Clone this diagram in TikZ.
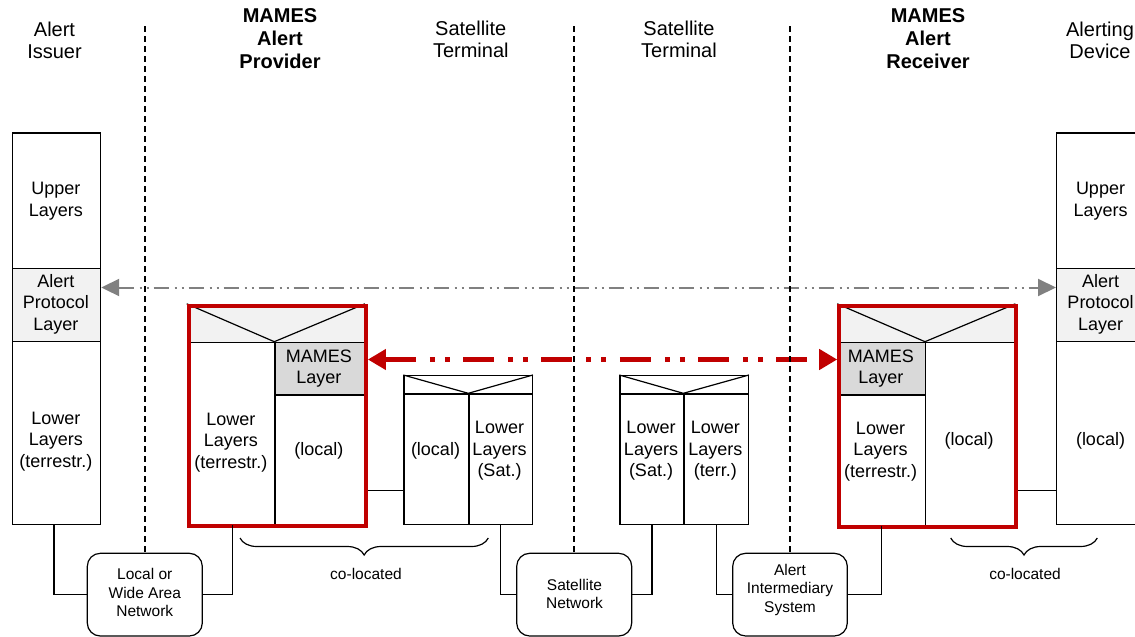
\documentclass[tikz,border=0pt]{standalone}
\usepackage{fontspec}
\setmainfont{Liberation Sans}
\usetikzlibrary{arrows.meta,decorations.pathreplacing}

\definecolor{mamesred}{HTML}{C00000}
\definecolor{paleband}{HTML}{F2F2F2}
\definecolor{mamesgray}{HTML}{D9D9D9}
\definecolor{linkgray}{HTML}{808080}

\begin{document}
\begin{tikzpicture}[x=1pt,y=-1pt,
  cell/.style={draw, line width=1.2pt, inner sep=0pt, anchor=north west, fill=white},
  band/.style={cell, fill=paleband},
  mameslayer/.style={cell, fill=mamesgray},
  frame/.style={draw=mamesred, line width=4.2pt, inner sep=0pt, anchor=north west},
  netbox/.style={draw, line width=1.2pt, rounded corners=13pt, inner sep=0pt, fill=white},
  wire/.style={line width=1.2pt},
  divider/.style={line width=1.6pt, dash pattern=on 6pt off 4pt},
  redlink/.style={draw=mamesred, line width=4.2pt,
    dash pattern=on 31pt off 14pt on 5pt off 10pt on 5pt off 13.3pt,
    {Triangle[length=18pt,width=20pt]}-{Triangle[length=18pt,width=20pt]}},
  graylink/.style={draw=linkgray, line width=2pt,
    dash pattern=on 15pt off 6pt on 2pt off 5pt on 2pt off 5pt,
    {Triangle[length=18pt,width=17pt]}-{Triangle[length=18pt,width=17pt]}},
  bracket/.style={line width=1.2pt, decorate, decoration={brace, amplitude=17pt}},
  txt/.style={align=center, inner sep=0pt, font=\fontsize{18}{21.5}\selectfont},
  small/.style={align=center, inner sep=0pt, font=\fontsize{15.5}{18.5}\selectfont},
  head/.style={align=center, inner sep=0pt, font=\fontsize{20}{22}\selectfont},
  boldhead/.style={align=center, inner sep=0pt, font=\bfseries\fontsize{20}{23}\selectfont}]

\useasboundingbox (0,0) rectangle (1135,637);
\fill[white] (0,0) rectangle (1135,637);
\clip (0,0) rectangle (1135,637);

% helper levels for horizontal links
\coordinate (yTop)  at (0,26);
\coordinate (yGray) at (0,287.5);
\coordinate (yRed)  at (0,359.5);
\coordinate (yLink) at (0,490.7);

% column headings
\node[head]     (hIssuer)   at (54.5,43)  {\strut Alert\\Issuer\strut};
\node[boldhead] (hProvider) at (280,41)   {\strut MAMES\\Alert\\Provider\strut};
\node[head]     (hTermA)    at (470.8,42) {\strut Satellite\\Terminal\strut};
\node[head]     (hTermB)    at (679,42)   {\strut Satellite\\Terminal\strut};
\node[boldhead] (hReceiver) at (928,41)   {\strut MAMES\\Alert\\Receiver\strut};
\node[head]     (hDevice)   at (1100,43)  {\strut Alerting\\Device\strut};

% Alert Issuer stack
\node[cell, minimum width=88.3, minimum height=135.4] (issUp)  at (11.7,132.3) {};
\node[band, minimum width=88.3, minimum height=73.3]  (issApl) at (11.7,267.7) {};
\node[cell, minimum width=88.3, minimum height=182.5] (issLow) at (11.7,341) {};
\node[txt] (issUpT)  at (55.8,201)   {\strut Upper\\Layers\strut};
\node[txt] (issAplT) at (55.8,304.6) {\strut Alert\\Protocol\\Layer\strut};
\node[txt] (issLowT) at (55.8,441.2) {\strut Lower\\Layers\\(terrestr.)\strut};

% Alerting Device stack
\node[cell, minimum width=88.3, minimum height=135.4] (devUp)  at (1056,132.3) {};
\node[band, minimum width=88.3, minimum height=73.3]  (devApl) at (1056,267.7) {};
\node[cell, minimum width=88.3, minimum height=182.5] (devLow) at (1056,341) {};
\node[txt] (devUpT)    at (1100.5,201)   {\strut Upper\\Layers\strut};
\node[txt] (devAplT)   at (1100.5,304.6) {\strut Alert\\Protocol\\Layer\strut};
\node[txt] (devLocalT) at (1100.5,441)   {\strut(local)\strut};

% MAMES Alert Provider
\node[band, minimum width=177, minimum height=37.9]        (provEnv)   at (186.7,303.8) {};
\node[cell, minimum width=87.6, minimum height=182.5]      (provLow)   at (186.7,341.7) {};
\node[mameslayer, minimum width=89.4, minimum height=52.6] (provMames) at (274.3,341.7) {};
\node[cell, minimum width=89.4, minimum height=129.9]      (provLocal) at (274.3,394.3) {};
\draw[wire] (provEnv.north west) -- (provMames.north west) -- (provEnv.north east);
\node[frame, minimum width=177, minimum height=220.4]      (provFrame) at (186.7,303.8) {};
\node[txt] (provLowT)   at (230.8,442.3) {\strut Lower\\Layers\\(terrestr.)\strut};
\node[txt] (provMamesT) at (318.8,368.5) {\strut MAMES\\Layer\strut};
\node[txt] (provLocalT) at (318.8,451)   {\strut(local)\strut};

% MAMES Alert Receiver
\node[band, minimum width=177, minimum height=37.9]        (recvEnv)   at (837.2,303.8) {};
\node[mameslayer, minimum width=87.8, minimum height=52.6] (recvMames) at (837.2,341.7) {};
\node[cell, minimum width=87.8, minimum height=130.2]      (recvLow)   at (837.2,394.3) {};
\node[cell, minimum width=89.2, minimum height=182.8]      (recvLocal) at (925,341.7) {};
\draw[wire] (recvEnv.north west) -- (recvLocal.north west) -- (recvEnv.north east);
\node[frame, minimum width=177, minimum height=220.7]      (recvFrame) at (837.2,303.8) {};
\node[txt] (recvMamesT) at (880.8,368.5) {\strut MAMES\\Layer\strut};
\node[txt] (recvLowT)   at (880.5,451.6) {\strut Lower\\Layers\\(terrestr.)\strut};
\node[txt] (recvLocalT) at (969.2,441)   {\strut(local)\strut};

% Satellite terminal on the provider side
\node[cell, minimum width=128.4, minimum height=18.3] (stAEnv)   at (403.3,375) {};
\node[cell, minimum width=65,    minimum height=130.2] (stALocal) at (403.3,393.3) {};
\node[cell, minimum width=63.4,  minimum height=130.2] (stASat)   at (468.3,393.3) {};
\draw[wire] (stAEnv.north west) -- (stASat.north west) -- (stAEnv.north east);
\node[txt] (stALocalT) at (435.5,451) {\strut(local)\strut};
\node[txt] (stASatT)   at (499.5,451) {\strut Lower\\Layers\\(Sat.)\strut};

% Satellite terminal on the receiver side
\node[cell, minimum width=128.4, minimum height=18.3] (stBEnv)  at (619.3,375) {};
\node[cell, minimum width=64,    minimum height=130.2] (stBSat)  at (619.3,393.3) {};
\node[cell, minimum width=64.4,  minimum height=130.2] (stBTerr) at (683.3,393.3) {};
\draw[wire] (stBEnv.north west) -- (stBTerr.north west) -- (stBEnv.north east);
\node[txt] (stBSatT)  at (651,451)   {\strut Lower\\Layers\\(Sat.)\strut};
\node[txt] (stBTerrT) at (715.3,451) {\strut Lower\\Layers\\(terr.)\strut};

% networks
\node[netbox, minimum width=115, minimum height=82.7] (lwan)   at (144.8,594.65) {};
\node[netbox, minimum width=115, minimum height=82.7] (satnet) at (574.2,594.65) {};
\node[netbox, minimum width=114.6, minimum height=82.7] (ais)  at (790,594.65) {};
\node[small] (lwanT)   at (144.8,594.5) {\strut Local or\\Wide Area\\Network\strut};
\node[small] (satnetT) at (574.5,595.7) {\strut Satellite\\Network\strut};
\node[small] (aisT)    at (790,590)     {\strut Alert\\Intermediary\\System\strut};

% physical links
\draw[wire] ([xshift=-2.5pt]issLow.south) |- (lwan.west);
\draw[wire] ([xshift=1.2pt]provLow.south) |- (lwan.east);
\draw[wire] (stASat.south) |- (satnet.west);
\draw[wire] (stBSat.south) |- (satnet.east);
\draw[wire] (stBTerr.south) |- (ais.west);
\draw[wire] (recvLow.south) |- (ais.east);
\draw[wire] (provFrame.east |- yLink) -- (stALocal.west |- yLink);
\draw[wire] (recvFrame.east |- yLink) -- (devLow.west |- yLink);

% co-location braces
\coordinate (braceAl) at (240,538);
\coordinate (braceAr) at (488.3,538);
\coordinate (braceBl) at (950.7,538);
\coordinate (braceBr) at (1097.3,538);
\draw[bracket] (braceAr) -- (braceAl);
\draw[bracket] (braceBr) -- (braceBl);
\node[small] (colocA) at (366,576)  {\strut co-located\strut};
\node[small] (colocB) at (1025,576) {\strut co-located\strut};

% logical peer relations
\draw[graylink] (issApl.east |- yGray) -- (devApl.west |- yGray);
\draw[redlink] (provFrame.east |- yRed) -- (recvFrame.west |- yRed);

% domain boundaries
\draw[divider] (lwan.north |- yTop) -- (lwan.north);
\draw[divider] (satnet.north |- yTop) -- (satnet.north);
\draw[divider] (ais.north |- yTop) -- (ais.north);
\end{tikzpicture}
\end{document}
